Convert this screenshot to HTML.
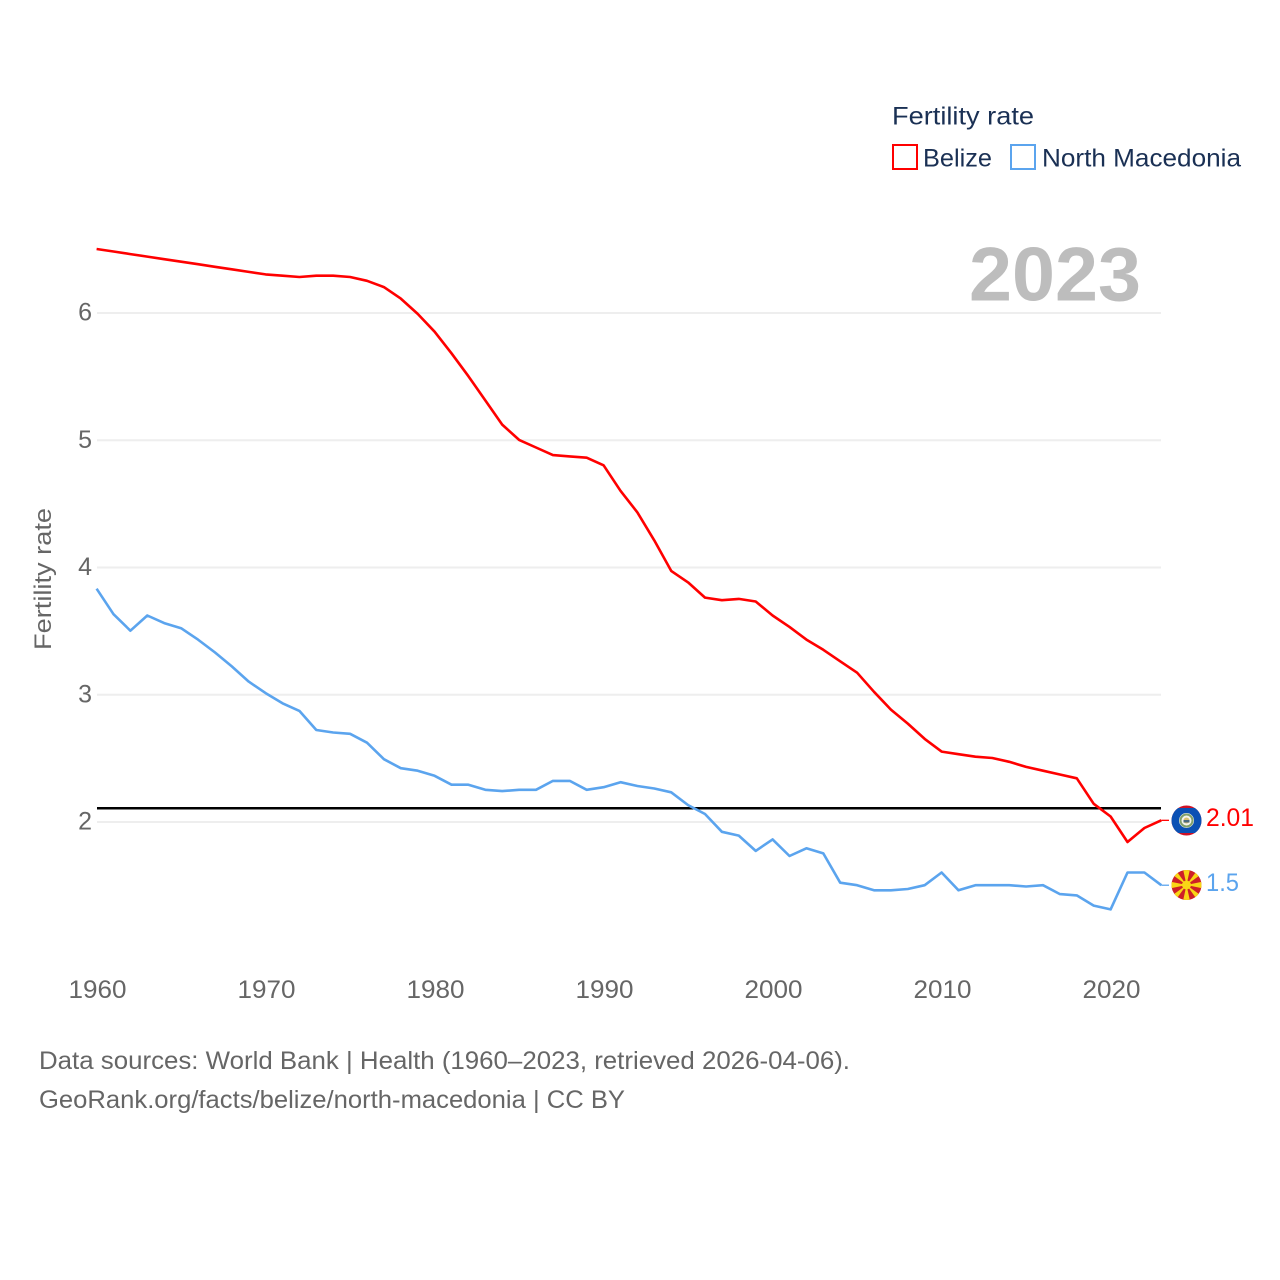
<!DOCTYPE html>
<html>
<head>
<meta charset="utf-8">
<style>
html,body{margin:0;padding:0;background:#fff;}
svg{display:block;font-family:"Liberation Sans",sans-serif;}
</style>
</head>
<body>
<svg id="chart" xmlns="http://www.w3.org/2000/svg" width="1280" height="1280" viewBox="0 0 1280 1280">
  <rect x="0" y="0" width="1280" height="1280" fill="#fff"/>
  <g id="grid"></g>
  <g id="yticks"></g>
  <g id="xticks"></g>
  <text transform="translate(51,579) rotate(-90)" text-anchor="middle" font-size="24" fill="#666" textLength="142" lengthAdjust="spacingAndGlyphs">Fertility rate</text>
  <text x="969" y="300.500" font-size="76" font-weight="700" fill="#bdbdbd" textLength="172" lengthAdjust="spacingAndGlyphs">2023</text>

  <g>
    <text x="892" y="124.500" font-size="25" fill="#1a3054" textLength="142" lengthAdjust="spacingAndGlyphs">Fertility rate</text>
    <rect x="893" y="145" width="24" height="24" fill="none" stroke="#ff0000" stroke-width="2"/>
    <text x="923" y="166.500" font-size="25" fill="#1a3054" textLength="69" lengthAdjust="spacingAndGlyphs">Belize</text>
    <rect x="1011" y="145" width="24" height="24" fill="none" stroke="#5ba4ee" stroke-width="2"/>
    <text x="1042" y="166.500" font-size="25" fill="#1a3054" textLength="199" lengthAdjust="spacingAndGlyphs">North Macedonia</text>
  </g>

  <g id="series"></g>

  <defs>
    <clipPath id="flag-clip-bz"><circle cx="1186.500" cy="820.500" r="15"/></clipPath>
    <clipPath id="flag-clip-mk"><circle cx="1186.500" cy="885" r="15"/></clipPath>
  </defs>
  <g clip-path="url(#flag-clip-bz)">
    <rect x="1171" y="805" width="31" height="31" fill="#ce1126"/>
    <rect x="1171" y="808" width="31" height="25" fill="#0a50b4"/>
    <circle cx="1186.500" cy="820.500" r="7.500" fill="#f4f4ec"/>
    <circle cx="1186.500" cy="820.500" r="6" fill="none" stroke="#7f9f6a" stroke-width="2"/>
    <circle cx="1186.500" cy="820.500" r="3" fill="#d8c070"/>
    <rect x="1183.500" y="820" width="6" height="2.500" fill="#4a6a80"/>
  </g>
  <g clip-path="url(#flag-clip-mk)">
    <rect x="1171" y="870" width="31" height="30" fill="#ce2028"/>
    <g fill="#f9d616">
      <polygon points="1183,869 1190,869 1186.500,885"/>
      <polygon points="1183,901 1190,901 1186.500,885"/>
      <polygon points="1170,881.500 1170,888.500 1186.500,885"/>
      <polygon points="1203,881.500 1203,888.500 1186.500,885"/>
      <polygon points="1171.800,874.300 1175.800,870.300 1186.500,885"/>
      <polygon points="1201.200,874.300 1197.200,870.300 1186.500,885"/>
      <polygon points="1171.800,895.700 1175.800,899.700 1186.500,885"/>
      <polygon points="1201.200,895.700 1197.200,899.700 1186.500,885"/>
      <circle cx="1186.500" cy="885" r="4.500"/>
    </g>
  </g>
  <text x="1206" y="826" font-size="25" fill="#ff0000" textLength="48" lengthAdjust="spacingAndGlyphs">2.01</text>
  <text x="1206" y="891" font-size="25" fill="#5ba4ee" textLength="33" lengthAdjust="spacingAndGlyphs">1.5</text>

  <text x="39" y="1069" font-size="25" fill="#666" textLength="811" lengthAdjust="spacingAndGlyphs">Data sources: World Bank | Health (1960–2023, retrieved 2026-04-06).</text>
  <text x="39" y="1108" font-size="25" fill="#666" textLength="586" lengthAdjust="spacingAndGlyphs">GeoRank.org/facts/belize/north-macedonia | CC BY</text>
</svg>
<script>
var startYear = 1960;
var belizeValues = [6.50,6.48,6.46,6.44,6.42,6.40,6.38,6.36,6.34,6.32,6.30,6.29,6.28,6.29,6.29,6.28,6.25,6.20,6.11,5.99,5.85,5.68,5.50,5.31,5.12,5.00,4.94,4.88,4.87,4.86,4.80,4.60,4.43,4.21,3.97,3.88,3.76,3.74,3.75,3.73,3.62,3.53,3.43,3.35,3.26,3.17,3.02,2.88,2.77,2.65,2.55,2.53,2.51,2.50,2.47,2.43,2.40,2.37,2.34,2.14,2.04,1.84,1.95,2.01];
var macedoniaValues = [3.83,3.63,3.50,3.62,3.56,3.52,3.43,3.33,3.22,3.10,3.01,2.93,2.87,2.72,2.70,2.69,2.62,2.49,2.42,2.40,2.36,2.29,2.29,2.25,2.24,2.25,2.25,2.32,2.32,2.25,2.27,2.31,2.28,2.26,2.23,2.13,2.06,1.92,1.89,1.77,1.86,1.73,1.79,1.75,1.52,1.50,1.46,1.46,1.47,1.50,1.60,1.46,1.50,1.50,1.50,1.49,1.50,1.43,1.42,1.34,1.31,1.60,1.60,1.50];
var yTickValues = [2,3,4,5,6];
var xTickValues = [1960,1970,1980,1990,2000,2010,2020];
var replacementRate = [2.105];

var NS = 'http://www.w3.org/2000/svg';
function xScale(year){ return 96.6 + (year - 1960) * 16.9; }
function yScale(v){ return 821.6 - (v - 2) * 127.25; }
function make(tag, attrs, parent){
  var el = document.createElementNS(NS, tag);
  for (var k in attrs) el.setAttribute(k, attrs[k]);
  parent.appendChild(el);
  return el;
}
var gridG = document.getElementById('grid');
var yG = document.getElementById('yticks');
var xG = document.getElementById('xticks');
var seriesG = document.getElementById('series');

yTickValues.forEach(function(v){
  var line = make('line', {x1:97, x2:1161, y1:yScale(v)+0.4, y2:yScale(v)+0.4, stroke:'#eeeeee', 'stroke-width':2}, gridG);
  
  
  var t = make('text', {x:92, y:yScale(v)+8, 'text-anchor':'end', 'font-size':25, fill:'#666'}, yG);
  
  
  t.textContent = String(v);
});
xTickValues.forEach(function(yr){
  var t = make('text', {x:xScale(yr)+0.9, y:998, 'text-anchor':'middle', 'font-size':25, fill:'#666', textLength:58, lengthAdjust:'spacingAndGlyphs'}, xG);
  
  
  t.textContent = String(yr);
});
function pointsFor(values){
  return values.map(function(v,i){ return xScale(startYear+i).toFixed(1)+','+yScale(v).toFixed(1); }).join(' ');
}
var refLine = make('line', {x1:97, x2:1161, y1:yScale(replacementRate[0]), y2:yScale(replacementRate[0]), stroke:'#000', 'stroke-width':2.4}, seriesG);



var mkLine = make('polyline', {points:pointsFor(macedoniaValues), fill:'none', stroke:'#5ba4ee', 'stroke-width':2.6, 'stroke-linejoin':'round'}, seriesG);


var bzLine = make('polyline', {points:pointsFor(belizeValues), fill:'none', stroke:'#ff0000', 'stroke-width':2.6, 'stroke-linejoin':'round'}, seriesG);



var lastYear = startYear + belizeValues.length - 1;
var bzConn = make('line', {x1:xScale(lastYear), x2:1169, y1:yScale(belizeValues[belizeValues.length-1]), y2:yScale(belizeValues[belizeValues.length-1]), stroke:'#ff0000', 'stroke-width':1.3}, seriesG);


var mkConn = make('line', {x1:xScale(lastYear), x2:1169, y1:yScale(macedoniaValues[macedoniaValues.length-1]), y2:yScale(macedoniaValues[macedoniaValues.length-1]), stroke:'#5ba4ee', 'stroke-width':1.3}, seriesG);


</script>
</body>
</html>
